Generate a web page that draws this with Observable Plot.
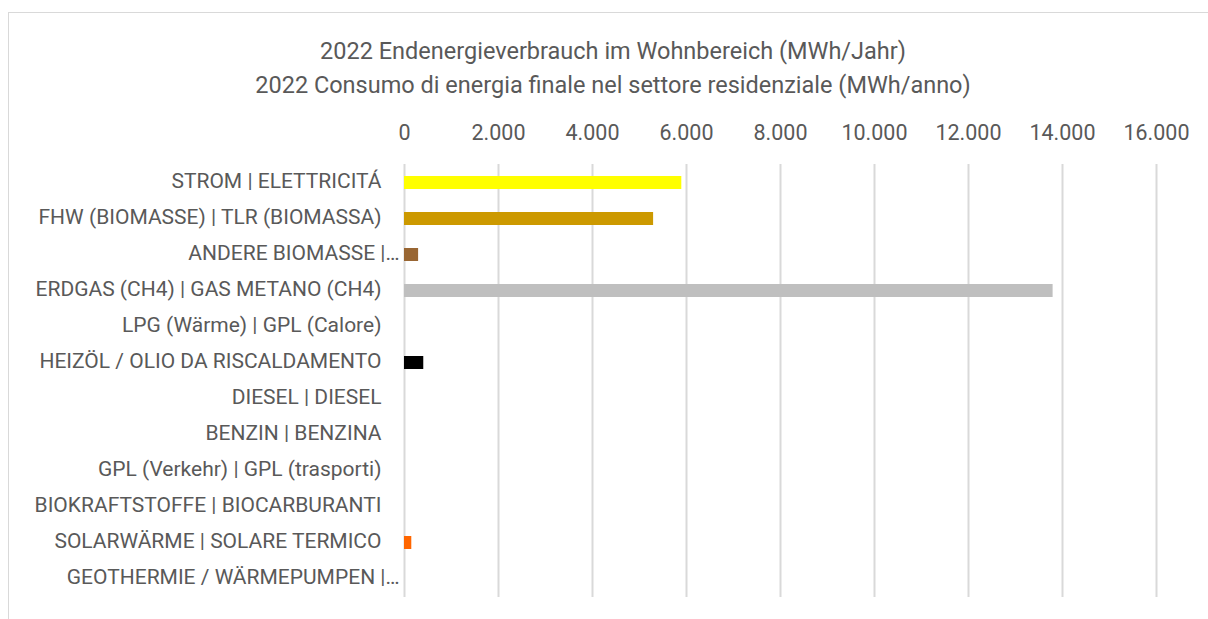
<!DOCTYPE html>
<html><head><meta charset="utf-8">
<script src="https://cdn.jsdelivr.net/npm/d3@7"></script>
<script src="https://cdn.jsdelivr.net/npm/@observablehq/plot@0.6"></script>
<style>
html,body{margin:0;padding:0;background:#fff;overflow:hidden;}
body{width:1208px;height:619px;position:relative;font-family:Roboto,sans-serif;}
#frame{position:absolute;left:8px;top:12px;width:1400px;height:800px;border-left:1.5px solid #d9d9d9;border-top:1.5px solid #d9d9d9;box-sizing:border-box;}
#title{position:absolute;left:0;width:1226px;top:34px;text-align:center;color:#595959;font-size:23.5px;line-height:34px;white-space:nowrap;}
#chart{position:absolute;left:0;top:100px;}
</style>
</head><body>
<div id="frame"></div>
<div id="title">2022 Endenergieverbrauch im Wohnbereich (MWh/Jahr)<br>2022 Consumo di energia finale nel settore residenziale (MWh/anno)</div>
<div id="chart"></div>
<script>
const categories = [
  "STROM | ELETTRICITÁ",
  "FHW (BIOMASSE) | TLR (BIOMASSA)",
  "ANDERE BIOMASSE |…",
  "ERDGAS (CH4) | GAS METANO (CH4)",
  "LPG (Wärme) | GPL (Calore)",
  "HEIZÖL / OLIO DA RISCALDAMENTO",
  "DIESEL | DIESEL",
  "BENZIN | BENZINA",
  "GPL (Verkehr) | GPL (trasporti)",
  "BIOKRAFTSTOFFE | BIOCARBURANTI",
  "SOLARWÄRME | SOLARE TERMICO",
  "GEOTHERMIE / WÄRMEPUMPEN |…"
];
const values = [5900, 5300, 300, 13800, 0, 410, 0, 0, 0, 0, 155, 0];
const barColors = ["#FFFF00", "#CC9900", "#996633", "#BFBFBF", "#ED7D31", "#000000", "#5B9BD5", "#A5A5A5", "#4472C4", "#70AD47", "#FF6600", "#264478"];
const xTicks = [0, 2000, 4000, 6000, 8000, 10000, 12000, 14000, 16000];

const data = categories.map((c, i) => ({cat: c, value: values[i], color: barColors[i], truncated: c.endsWith("…")}));
const fmt = d3.formatLocale({decimal: ",", thousands: ".", grouping: [3], currency: ["", "€"]}).format(",");

const chart = Plot.plot({
  width: 1208,
  height: 519,
  marginTop: 64,
  marginBottom: 22,
  marginLeft: 404,
  marginRight: 52,
  style: {fontFamily: "Roboto, sans-serif", fontSize: "21px", color: "#595959", background: "transparent"},
  x: {domain: [0, 16000]},
  y: {domain: categories, paddingInner: 0.64, paddingOuter: 0.3},
  color: {type: "identity"},
  marks: [
    Plot.ruleX(xTicks, {stroke: "#d9d9d9", strokeWidth: 2}),
    Plot.axisX({anchor: "top", ticks: xTicks, tickSize: 0, tickPadding: 25, tickFormat: fmt, label: null, fontSize: 21.5}),
    Plot.barX(data, {x: "value", y: "cat", fill: "color"}),
    Plot.axisY({ticks: [], label: null}),
    Plot.text(data.filter(d => !d.truncated), {y: "cat", text: "cat", frameAnchor: "left", textAnchor: "end", dx: -23, dy: -1.5, fill: "#595959", fontSize: 21}),
    Plot.text(data.filter(d => d.truncated), {y: "cat", text: "cat", frameAnchor: "left", textAnchor: "end", dx: -5, dy: -1.5, fill: "#595959", fontSize: 21})
  ]
});
document.getElementById("chart").appendChild(chart);
</script>
</body></html>
